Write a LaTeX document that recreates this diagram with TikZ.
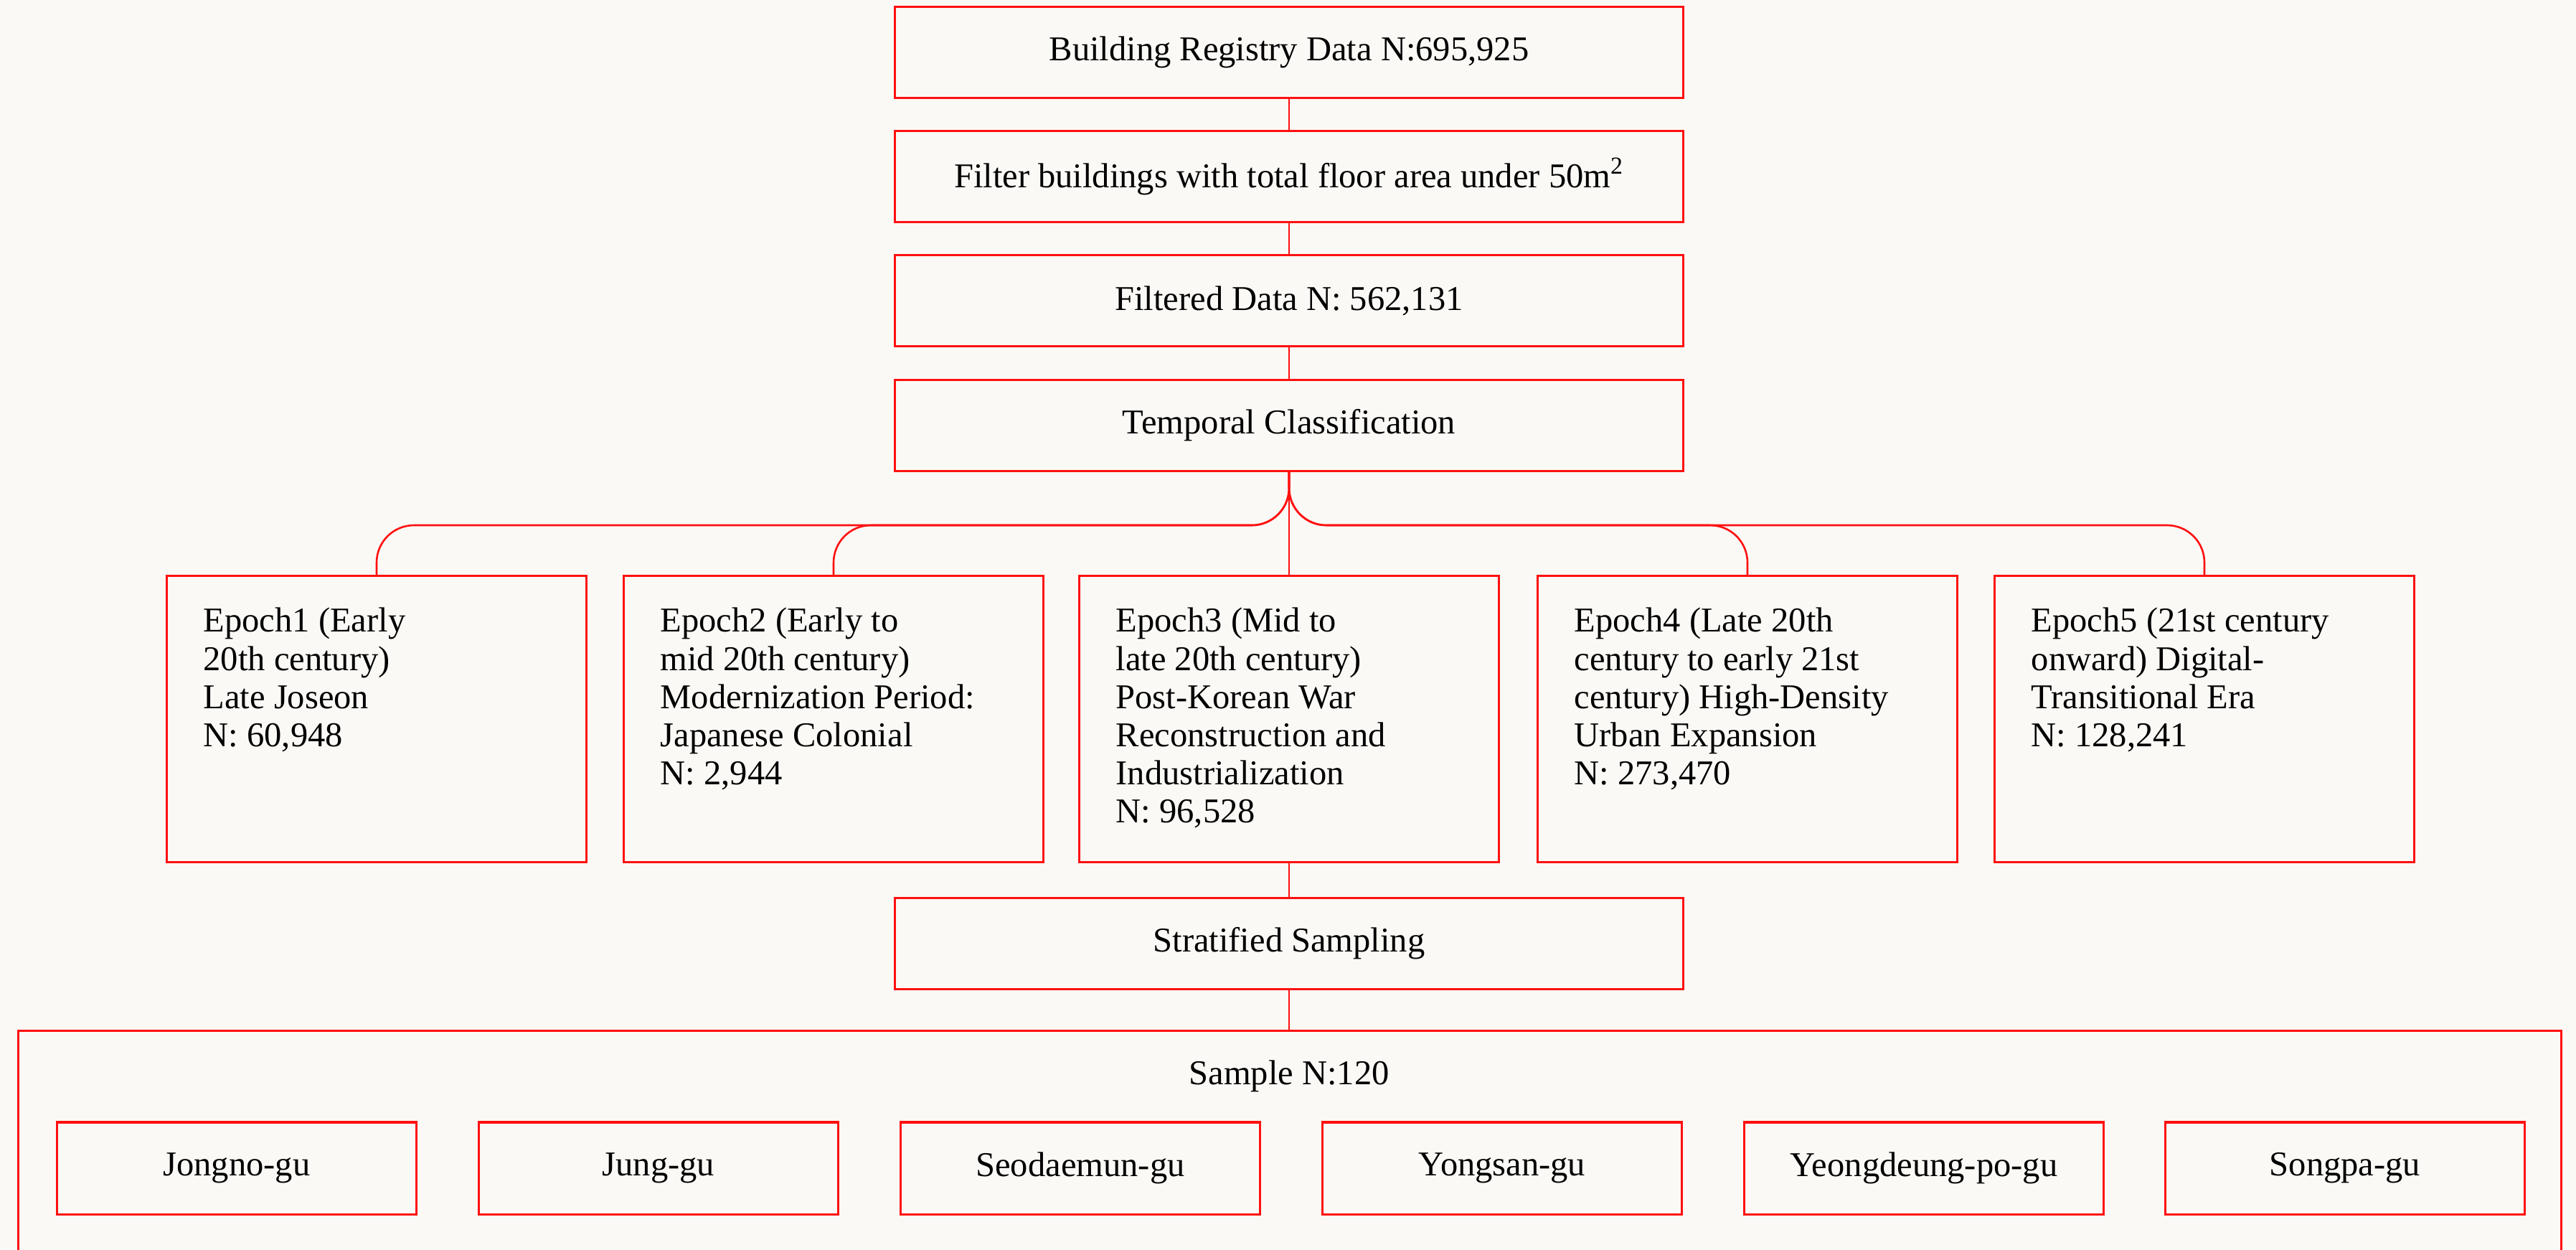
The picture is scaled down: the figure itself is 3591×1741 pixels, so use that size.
\documentclass[tikz,border=0pt]{standalone}
\usepackage{fontspec}
\setmainfont{Liberation Serif}
\definecolor{bgc}{HTML}{FAF9F5}
\definecolor{lred}{HTML}{FF1010}
\begin{document}
\begin{tikzpicture}[x=0.01cm,y=-0.01cm,
  box/.style={draw=lred, line width=0.03cm, fill=bgc, inner sep=0pt, font=\fontsize{13.8}{15.1}\selectfont},
  topbox/.style={box, minimum width=10.99cm, minimum height=1.27cm},
  epochbox/.style={box, minimum width=5.85cm, minimum height=3.98cm},
  distbox/.style={box, minimum width=5.01cm, minimum height=1.28cm},
  epochtext/.style={anchor=north west, inner sep=0pt, align=left, font=\fontsize{13.8}{15.1}\selectfont},
  conn/.style={draw=lred, line width=0.026cm},
]
\useasboundingbox (0,0) rectangle (3591,1741);
\clip (0,0) rectangle (3591,1741);
\fill[bgc] (0,0) rectangle (3591,1741);

% top chain
\node[topbox] (b1) at (1797,73) {Building Registry Data N:695,925};
\node[topbox] (b2) at (1797,246) {Filter buildings with total floor area under 50m\textsuperscript{2}};
\node[topbox] (b3) at (1797,419) {Filtered Data N: 562,131};
\node[topbox] (b4) at (1797,593) {Temporal Classification};

% epochs
\node[epochbox] (e1) at (525,1002) {};
\node[epochbox] (e2) at (1162,1002) {};
\node[epochbox] (e3) at (1797,1002) {};
\node[epochbox] (e4) at (2436,1002) {};
\node[epochbox] (e5) at (3073,1002) {};

\node[epochtext] (t1) at (283,843) {\strut Epoch1 (Early\\20th century)\\Late Joseon\\N: 60,948};
\node[epochtext] (t2) at (920,843) {\strut Epoch2 (Early to\\mid 20th century)\\Modernization Period:\\Japanese Colonial\\N: 2,944};
\node[epochtext] (t3) at (1555,843) {\strut Epoch3 (Mid to\\late 20th century)\\Post-Korean War\\Reconstruction and\\Industrialization\\N: 96,528};
\node[epochtext] (t4) at (2194,843) {\strut Epoch4 (Late 20th\\century to early 21st\\century) High-Density\\Urban Expansion\\N: 273,470};
\node[epochtext] (t5) at (2831,843) {\strut Epoch5 (21st century\\onward) Digital-\\Transitional Era\\N: 128,241};

% sampling
\node[topbox] (s) at (1797,1315) {Stratified Sampling};

% sample container
\node[box, minimum width=35.43cm, minimum height=4cm] (sample) at (1798,1637) {};
\node[inner sep=0pt, font=\fontsize{13.8}{15.1}\selectfont] (st) at (1797,1500) {Sample N:120};

\node[distbox] (d1) at (330,1628) {Jongno-gu};
\node[distbox] (d2) at (918,1628) {Jung-gu};
\node[distbox] (d3) at (1506,1628) {Seodaemun-gu};
\node[distbox] (d4) at (2094,1628) {Yongsan-gu};
\node[distbox] (d5) at (2682,1628) {Yeongdeung-po-gu};
\node[distbox] (d6) at (3269,1628) {Songpa-gu};

% connectors
\draw[conn] (b1) -- (b2);
\draw[conn] (b2) -- (b3);
\draw[conn] (b3) -- (b4);
\coordinate (hub) at (1797,732);
\draw[conn] (b4.south) -- (e3.north);
\foreach \e in {e1,e2,e4,e5}{
  \draw[conn, rounded corners=0.52cm] (b4.south) -- (hub) -| (\e.north);
}
\draw[conn] (e3.south) -- (s.north);
\draw[conn] (s.south) -- (s.south |- sample.north);
\end{tikzpicture}
\end{document}
